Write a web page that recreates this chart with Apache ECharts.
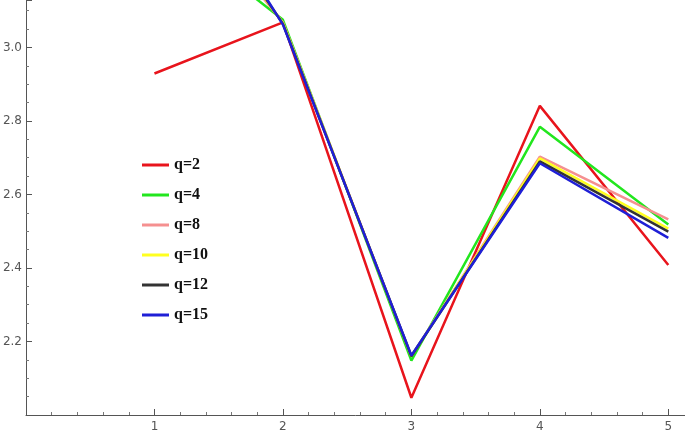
<!DOCTYPE html>
<html>
<head>
<meta charset="utf-8">
<script src="https://cdn.jsdelivr.net/npm/echarts@6/dist/echarts.min.js"></script>
<style>
html,body{margin:0;padding:0;background:#fff;}
#chart{width:685px;height:438px;}
</style>
</head>
<body>
<div id="chart"></div>
<script>
// x positions
var xs = [1, 2, 3, 4, 5];
// series values (x=1 values of q>=4 lie above the frame)
var q2  = [2.929, 3.068, 2.047, 2.841, 2.408];
var q4  = [3.35, 3.075, 2.148, 2.784, 2.518];
var q8  = [3.50, 3.068, 2.160, 2.703, 2.532];
var q10 = [3.55, 3.066, 2.160, 2.698, 2.507];
var q12 = [3.58, 3.064, 2.160, 2.690, 2.499];
var q15 = [3.62, 3.062, 2.162, 2.685, 2.482];
var names = ['q=2', 'q=4', 'q=8', 'q=10', 'q=12', 'q=15'];
var colors = ['#e8141c', '#22e61e', '#f59090', '#ffff20', '#333333', '#1f1fd6'];
var allData = [q2, q4, q8, q10, q12, q15];

function pairs(vals) {
	var out = [];
	for (var i = 0; i < xs.length; i++) {
		out.push([xs[i], vals[i]]);
	}
	return out;
}

var series = [];
for (var i = 0; i < names.length; i++) {
	series.push({
		name: names[i],
		type: 'line',
		data: pairs(allData[i]),
		showSymbol: false,
		clip: true,
		lineStyle: { color: colors[i], width: 2.5 },
		itemStyle: { color: colors[i] },
		z: 10 + i
	});
}

var chart = echarts.init(document.getElementById('chart'));
chart.setOption({
	animation: false,
	grid: { left: 26, right: 0, top: 0, bottom: 23, outerBoundsMode: 'none', containLabel: false },
	legend: {
		orient: 'vertical',
		left: 137,
		top: 152,
		itemGap: 14,
		itemWidth: 27,
		itemHeight: 3,
		icon: 'rect',
		data: names,
		textStyle: {
			fontFamily: 'Liberation Serif',
			fontWeight: 'bold',
			fontSize: 16,
			color: '#111'
		}
	},
	xAxis: {
		type: 'value',
		min: 0,
		max: 5.13,
		interval: 1,
		axisLine: { lineStyle: { color: '#555', width: 1 } },
		axisTick: { inside: true, length: 6, lineStyle: { color: '#555' } },
		minorTick: { show: true, splitNumber: 5, length: 3, lineStyle: { color: '#777' } },
		splitLine: { show: false },
		axisLabel: {
			color: '#555',
			fontSize: 12,
			fontFamily: 'DejaVu Sans',
			margin: 6,
			formatter: function (v) {
				return (v >= 1 && Math.abs(v - Math.round(v)) < 1e-6) ? String(Math.round(v)) : '';
			}
		}
	},
	yAxis: {
		type: 'value',
		min: 2.0,
		max: 3.129,
		interval: 0.2,
		axisLine: { show: true, lineStyle: { color: '#555', width: 1 } },
		axisTick: { show: true, inside: true, length: 6, lineStyle: { color: '#555' } },
		minorTick: { show: true, splitNumber: 4, length: 3, lineStyle: { color: '#777' } },
		splitLine: { show: false },
		axisLabel: {
			color: '#555',
			fontSize: 12,
			fontFamily: 'DejaVu Sans',
			margin: 4,
			formatter: function (v) {
				if (v < 2.1 || v > 3.05) return '';
				return v.toFixed(1);
			}
		}
	},
	series: series
});
</script>
</body>
</html>
